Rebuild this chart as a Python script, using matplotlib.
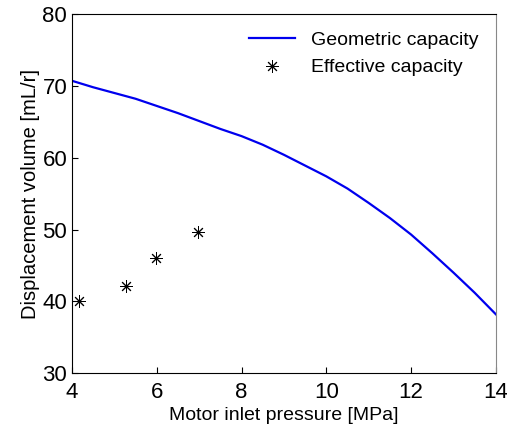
import matplotlib.pyplot as plt

plt.rcParams['font.family'] = ['Liberation Sans Narrow', 'Liberation Sans', 'DejaVu Sans']

# Courbe de cylindrée géométrique
pression_geo = [4, 4.5, 5, 5.5, 6, 6.5, 7, 7.5, 8, 8.5, 9, 9.5, 10,
                10.5, 11, 11.5, 12, 12.5, 13, 13.5, 14]
volume_geo = [70.7, 69.8, 69.0, 68.2, 67.2, 66.2, 65.1, 64.0, 63.0, 61.8, 60.4, 58.9, 57.4,
              55.7, 53.7, 51.6, 49.3, 46.7, 44.0, 41.2, 38.2]

# Points mesurés (cylindrée effective)
pression_eff = [4.17, 5.27, 5.98, 6.98]
volume_eff = [40.1, 42.1, 46.1, 49.7]

fig = plt.figure(figsize=(5.07, 4.37), dpi=100)
ax = fig.add_axes([0.142, 0.146, 0.836, 0.822])

ax.plot(pression_geo, volume_geo, color="#0000ee", linewidth=1.6, label="Geometric capacity")
ax.plot(pression_eff, volume_eff, linestyle="none", marker=(8, 2, 0), markersize=9,
        markeredgewidth=0.7, color="black", label="Effective capacity")

ax.set_xlim(4, 14)
ax.set_ylim(30, 80)
ax.set_xticks([4, 6, 8, 10, 12, 14])
ax.set_yticks([30, 40, 50, 60, 70, 80])
ax.tick_params(direction="in", length=4, labelsize=16, top=False, right=False)
ax.tick_params(axis="x", pad=6)
ax.spines["right"].set_color("#888888")

ax.set_xlabel("Motor inlet pressure [MPa]", fontsize=14, labelpad=3)
ax.set_ylabel("Displacement volume [mL/r]", fontsize=14.5, labelpad=2)

ax.legend(loc="upper right", frameon=False, fontsize=14, handlelength=2.4)

fig.savefig("out.png", dpi=100)
